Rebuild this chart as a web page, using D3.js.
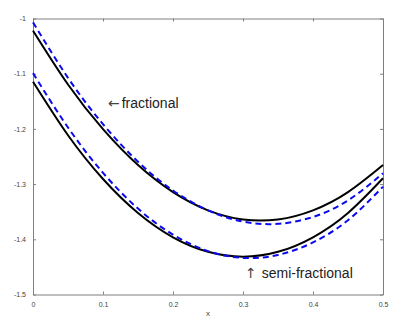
<!DOCTYPE html>
<html>
<head>
<meta charset="utf-8">
<script src="https://cdn.jsdelivr.net/npm/d3@7"></script>
<style>
  body { margin: 0; background: #fff; }
  svg { display: block; font-family: "Liberation Sans", Arial, sans-serif; }
</style>
</head>
<body>
<div id="chart"></div>
<script>
var xs = [0, 0.05, 0.1, 0.15, 0.2, 0.25, 0.3, 0.35, 0.4, 0.45, 0.5];
// fractional: solid black and dashed blue
var fracSolid = [-1.022, -1.1195, -1.2005, -1.2655, -1.3145, -1.3475, -1.364, -1.364, -1.3475, -1.3145, -1.2655];
var fracDashed = [-1.007, -1.1075, -1.1915, -1.2595, -1.3115, -1.3475, -1.368, -1.372, -1.3595, -1.3295, -1.2805];
// semi-fractional: solid black and dashed blue
var semiSolid = [-1.1145, -1.2115, -1.2907, -1.3523, -1.3963, -1.4227, -1.4315, -1.4227, -1.3963, -1.3523, -1.2895];
var semiDashed = [-1.099, -1.1974, -1.2796, -1.3444, -1.3916, -1.4214, -1.4337, -1.4284, -1.4056, -1.3654, -1.3047];

var xTicks = [0, 0.1, 0.2, 0.3, 0.4, 0.5];
var xTickLabels = ["0", "0.1", "0.2", "0.3", "0.4", "0.5"];
var yTicks = [-1, -1.1, -1.2, -1.3, -1.4, -1.5];
var yTickLabels = ["-1", "-1.1", "-1.2", "-1.3", "-1.4", "-1.5"];

var W = 416, H = 332;
var margin = { top: 18.5, right: 33, bottom: 37.5, left: 33 };

var svg = d3.select("#chart").append("svg")
  .attr("width", W)
  .attr("height", H);

var x = d3.scaleLinear().domain([0, 0.5]).range([margin.left, W - margin.right]);
var y = d3.scaleLinear().domain([-1.5, -1]).range([H - margin.bottom, margin.top]);

var axisColor = "#7f7f7f";

// frame with inward ticks on all four sides
function styleAxis(g, showLabels) {
  g.select(".domain").attr("stroke", axisColor);
  g.selectAll(".tick line").attr("stroke", axisColor);
  g.selectAll(".tick text")
    .attr("fill", "#444")
    .style("font-size", "7px")
    .style("display", showLabels ? null : "none");
}

svg.append("g")
  .attr("transform", "translate(0," + y(-1.5) + ")")
  .call(d3.axisBottom(x).tickValues(xTicks).tickSizeInner(-3).tickSizeOuter(0).tickPadding(8)
    .tickFormat(function (d, i) { return xTickLabels[i]; }))
  .call(styleAxis, true);

svg.append("g")
  .attr("transform", "translate(0," + y(-1) + ")")
  .call(d3.axisTop(x).tickValues(xTicks).tickSizeInner(-3).tickSizeOuter(0))
  .call(styleAxis, false);

svg.append("g")
  .attr("transform", "translate(" + x(0) + ",0)")
  .call(d3.axisLeft(y).tickValues(yTicks).tickSizeInner(-3).tickSizeOuter(0).tickPadding(7)
    .tickFormat(function (d, i) { return yTickLabels[i]; }))
  .call(styleAxis, true);

svg.append("g")
  .attr("transform", "translate(" + x(0.5) + ",0)")
  .call(d3.axisRight(y).tickValues(yTicks).tickSizeInner(-3).tickSizeOuter(0))
  .call(styleAxis, false);

// curves
var line = d3.line()
  .x(function (d) { return x(d[0]); })
  .y(function (d) { return y(d[1]); })
  .curve(d3.curveNatural);

function pairs(vals) {
  return xs.map(function (v, i) { return [v, vals[i]]; });
}

var series = [
  { vals: fracSolid, color: "#000", dash: null },
  { vals: semiSolid, color: "#000", dash: null },
  { vals: fracDashed, color: "#0a0aef", dash: "6,4" },
  { vals: semiDashed, color: "#0a0aef", dash: "6,4" }
];

svg.append("g")
  .selectAll("path")
  .data(series)
  .enter()
  .append("path")
  .attr("d", function (d) { return line(pairs(d.vals)); })
  .attr("fill", "none")
  .attr("stroke", function (d) { return d.color; })
  .attr("stroke-width", 2)
  .attr("stroke-dasharray", function (d) { return d.dash; });

// axis label
svg.append("text")
  .attr("x", 208)
  .attr("y", 316)
  .attr("text-anchor", "middle")
  .attr("fill", "#444")
  .style("font-size", "8px")
  .text("x");

// annotations
var ann1 = svg.append("text")
  .attr("x", 108)
  .attr("y", 107.5)
  .attr("fill", "#222")
  .style("font-size", "14px");
ann1.append("tspan").style("font-family", "DejaVu Sans").attr("fill", "#444").text("\u2190");
ann1.append("tspan").attr("dx", 2).text("fractional");

var ann2 = svg.append("text")
  .attr("x", 245)
  .attr("y", 278)
  .attr("fill", "#222")
  .style("font-size", "14px");
ann2.append("tspan").style("font-family", "DejaVu Sans").attr("fill", "#444").text("\u2191");
ann2.append("tspan").attr("dx", 5).text("semi-fractional");
</script>
</body>
</html>
